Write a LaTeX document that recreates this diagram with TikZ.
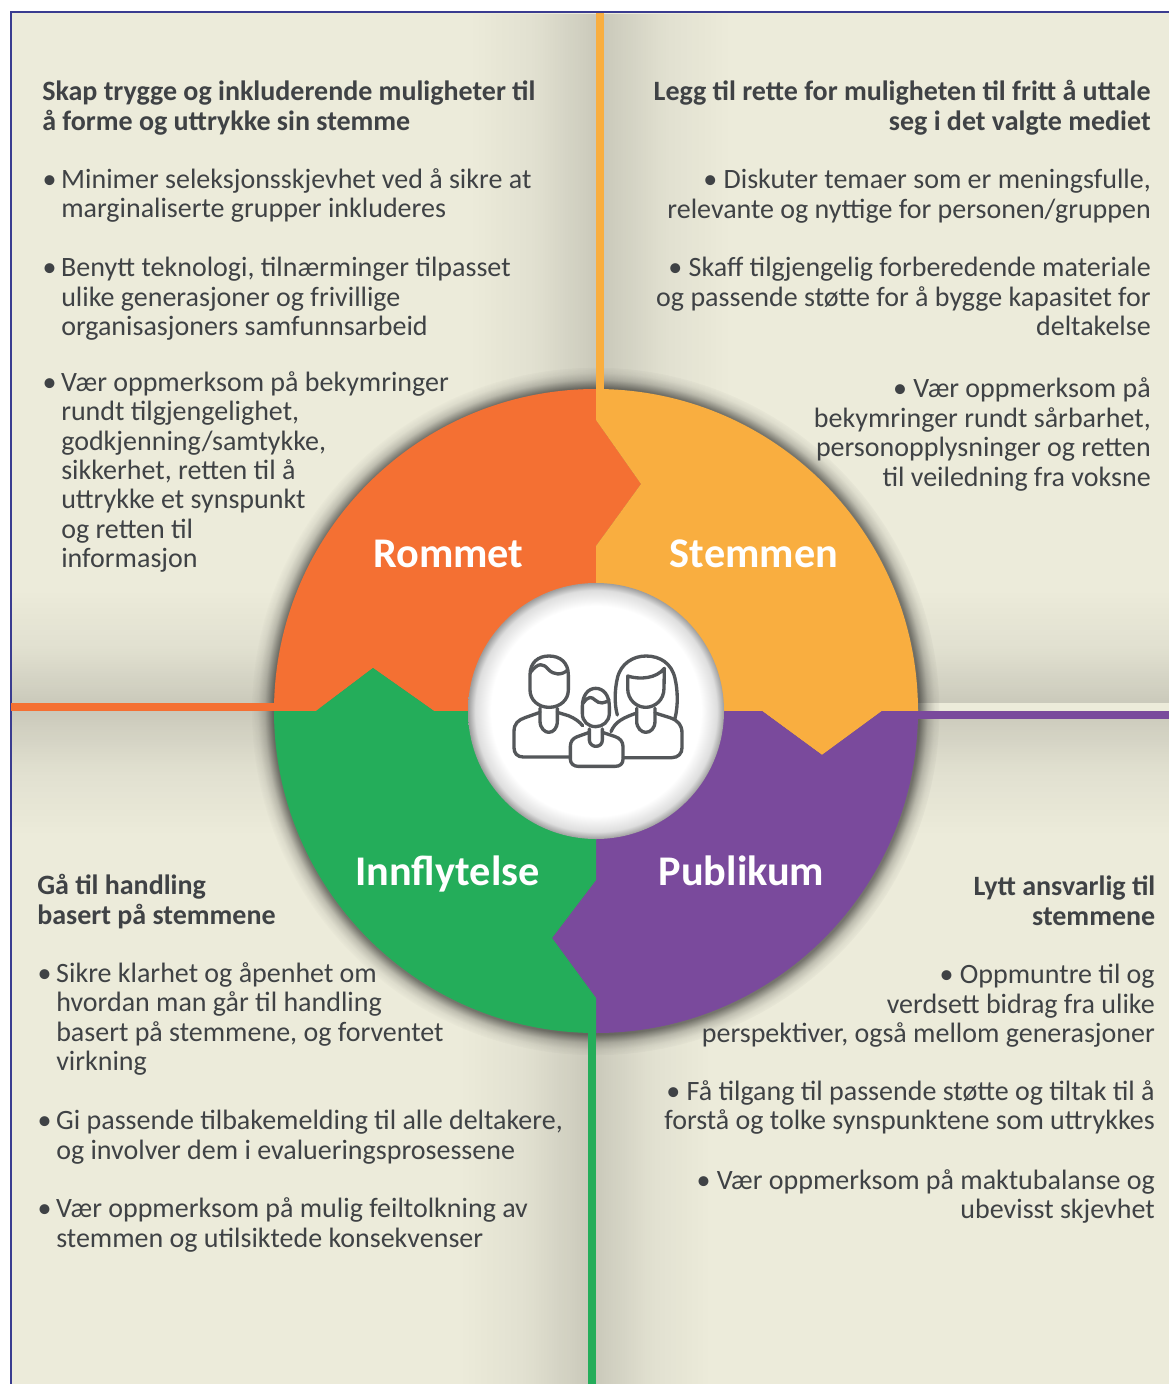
\documentclass[tikz,border=0pt]{standalone}
\usepackage{fontspec}
\setmainfont{Carlito}
\usetikzlibrary{fadings}
\definecolor{paper}{HTML}{ECEBDA}
\definecolor{frameblue}{HTML}{3A3C90}
\definecolor{wheelorange}{HTML}{F47033}
\definecolor{wheelyellow}{HTML}{F9AE40}
\definecolor{wheelgreen}{HTML}{24AD5A}
\definecolor{wheelpurple}{HTML}{7A4A9C}
\definecolor{bodytext}{HTML}{3F4245}
\definecolor{icongray}{HTML}{54575A}
\pgfdeclareradialshading{hubshade}{\pgfpoint{0bp}{0bp}}{color(0bp)=(white); color(20.5bp)=(white); color(23.6bp)=(black!13); color(25bp)=(black!38); color(50bp)=(black!38)}
\pgfdeclareradialshading{halofade}{\pgfpoint{0bp}{0bp}}{color(0bp)=(white); color(23.4bp)=(white); color(24bp)=(black!62); color(24.5bp)=(black!88); color(25bp)=(black); color(50bp)=(black)}
\pgfdeclarefading{halofading}{\pgfuseshading{halofade}}
\pgfdeclarehorizontalshading{rampoutright}{100bp}{color(0bp)=(white); color(25bp)=(white); color(50bp)=(black!70); color(75bp)=(black); color(100bp)=(black)}
\pgfdeclarehorizontalshading{rampoutleft}{100bp}{color(0bp)=(black); color(25bp)=(black); color(50bp)=(black!70); color(75bp)=(white); color(100bp)=(white)}
\pgfdeclareverticalshading{rampoutup}{100bp}{color(0bp)=(white); color(25bp)=(white); color(50bp)=(black!70); color(75bp)=(black); color(100bp)=(black)}
\pgfdeclareverticalshading{rampoutdown}{100bp}{color(0bp)=(black); color(25bp)=(black); color(50bp)=(black!70); color(75bp)=(white); color(100bp)=(white)}
\pgfdeclarefading{fadeoutright}{\pgfuseshading{rampoutright}}
\pgfdeclarefading{fadeoutleft}{\pgfuseshading{rampoutleft}}
\pgfdeclarefading{fadeoutup}{\pgfuseshading{rampoutup}}
\pgfdeclarefading{fadeoutdown}{\pgfuseshading{rampoutdown}}
\tikzset{
  lefttext/.style={anchor=north west,align=left,inner sep=0pt,text=bodytext,font=\fontsize{21}{22.1}\selectfont},
  righttext/.style={anchor=north east,align=right,inner sep=0pt,text=bodytext,font=\fontsize{21}{22.1}\selectfont},
  leftheadtext/.style={lefttext,font=\fontsize{21}{22.1}\selectfont\bfseries},
  rightheadtext/.style={righttext,font=\fontsize{21}{22.1}\selectfont\bfseries},
  wheellabel/.style={text=white,inner sep=0pt,font=\fontsize{31.7}{33}\selectfont\bfseries},
  bandshadow/.style={fill=black,fill opacity=0.14},
  iconline/.style={draw=icongray,line width=2.5pt,line join=round,line cap=round}
}
\newcommand{\hb}{\llap{•\hspace{3.5pt}}}
\begin{document}
\begin{tikzpicture}[x=0.75pt,y=-0.75pt]
\useasboundingbox (0,0) rectangle (1169,1384);
\fill[white] (0,0) rectangle (1169,1384);
\fill[paper] (10,12) rectangle (1169,1384);
% soft bands
\fill[bandshadow,path fading=fadeoutleft] (470,13) rectangle (596,711);
\fill[bandshadow,path fading=fadeoutright] (604,13) rectangle (730,711);
\fill[bandshadow,path fading=fadeoutleft] (460,711) rectangle (588,1384);
\fill[bandshadow,path fading=fadeoutright] (596,711) rectangle (710,1384);
\fill[bandshadow,path fading=fadeoutup] (12,590) rectangle (1169,703);
\fill[bandshadow,path fading=fadeoutdown] (12,711) rectangle (1169,835);
% halo
\fill[black,fill opacity=0.5,path fading=halofading] (596,711) circle [radius=344];
% frame
\draw[frameblue,line width=1.5pt] (10.5,1384) -- (10.5,12.5) -- (1169,12.5);
% arms
\fill[wheelyellow] (596,13) rectangle (604,420);
\fill[wheelorange] (11,703) rectangle (320,711);
\fill[wheelpurple] (880,711) rectangle (1169,719);
\fill[wheelgreen] (588,1000) rectangle (596,1384);
% wheel
\begin{scope}
\clip (596,711) circle [radius=322];
\fill[wheelorange] (596,300) -- (596,420) -- (641,484) -- (596,546) -- (596,711) -- (434,711) -- (373,668) -- (316,711) -- (200,711) -- (200,300) -- cycle;
\fill[wheelyellow] (596,300) -- (1000,300) -- (1000,711) -- (882,711) -- (822,755) -- (762,711) -- (596,711) -- (596,546) -- (641,484) -- (596,420) -- cycle;
\fill[wheelpurple] (1000,711) -- (1000,1100) -- (596,1100) -- (596,998) -- (552,938) -- (596,880) -- (596,711) -- (762,711) -- (822,755) -- (882,711) -- cycle;
\fill[wheelgreen] (596,1100) -- (200,1100) -- (200,711) -- (316,711) -- (373,668) -- (434,711) -- (596,711) -- (596,880) -- (552,938) -- (596,998) -- cycle;
\end{scope}
% hub
\shade[shading=hubshade] (596,711) circle [radius=128];
% icon
\begin{scope}[shift={(460,575)},x=0.25pt,y=-0.25pt]
% man
\draw[iconline] (210,345) -- (210,300) .. controls (210,262) and (235,243) .. (267,243) .. controls (300,243) and (325,262) .. (325,300) -- (325,345) .. controls (325,375) and (300,397) .. (267,397) .. controls (235,397) and (210,375) .. (210,345) -- cycle;
\draw[iconline] (213,290) .. controls (235,262) and (250,265) .. (265,283) .. controls (280,300) and (305,302) .. (323,285);
\draw[iconline] (328,546) -- (190,546) .. controls (172,546) and (162,535) .. (162,518) -- (162,470) .. controls (162,445) and (175,435) .. (195,428) -- (240,412);
\draw[iconline] (292,412) -- (325,422) .. controls (345,430) and (358,440) .. (368,452);
\draw[iconline] (240,400) -- (240,438) .. controls (240,460) and (255,472) .. (266,472) .. controls (280,472) and (292,460) .. (292,438) -- (292,400);
% woman
\draw[iconline] (472,420) .. controls (462,385) and (465,340) .. (472,310) .. controls (482,265) and (520,243) .. (558,243) .. controls (600,243) and (635,265) .. (645,310) .. controls (653,345) and (655,390) .. (645,430);
\draw[iconline] (503,303) .. controls (540,315) and (590,310) .. (613,280) -- (612,340) .. controls (612,375) and (585,397) .. (557,397) .. controls (530,397) and (503,375) .. (503,340) -- cycle;
\draw[iconline] (453,470) .. controls (465,440) and (490,428) .. (530,414);
\draw[iconline] (585,414) -- (630,428) .. controls (655,437) and (666,450) .. (666,475) -- (666,518) .. controls (666,535) and (655,548) .. (635,548) -- (490,548);
\draw[iconline] (530,400) -- (530,438) .. controls (530,460) and (545,472) .. (557,472) .. controls (572,472) and (585,460) .. (585,438) -- (585,400);
% child
\draw[iconline] (367,395) .. controls (367,360) and (385,340) .. (407,340) .. controls (430,340) and (448,360) .. (448,395) -- (448,415) .. controls (448,440) and (428,455) .. (407,455) .. controls (385,455) and (367,440) .. (367,415) -- cycle;
\draw[iconline] (369,385) .. controls (385,362) and (395,365) .. (405,375) .. controls (418,388) and (435,385) .. (447,375);
\draw[iconline] (388,462) -- (388,495) .. controls (388,508) and (400,514) .. (407,514) .. controls (418,514) and (427,508) .. (427,495) -- (427,462);
\draw[iconline] (388,472) -- (352,485) .. controls (338,490) and (331,500) .. (331,515) -- (331,553) .. controls (331,566) and (342,574) .. (354,574) -- (466,574) .. controls (480,574) and (489,566) .. (489,553) -- (489,515) .. controls (489,500) and (480,490) .. (466,485) -- (427,472);
\end{scope}
% wheel labels
\node[wheellabel] (rommet) at (448.5,554) {Rommet};
\node[wheellabel] (stemmen) at (754,554) {Stemmen};
\node[wheellabel] (innflytelse) at (447.5,874) {Innflytelse};
\node[wheellabel] (publikum) at (741.5,871) {Publikum};
% top left
\node[leftheadtext] (tlh) at (42,81) {Skap trygge og inkluderende muligheter til\\å forme og uttrykke sin stemme};
\node[lefttext] (tla) at (61,168) {\hb Minimer seleksjonsskjevhet ved å sikre at\\marginaliserte grupper inkluderes};
\node[lefttext] (tlb) at (61,257) {\hb Benytt teknologi, tilnærminger tilpasset\\ulike generasjoner og frivillige\\organisasjoners samfunnsarbeid};
\node[lefttext] (tlc) at (61,371) {\hb Vær oppmerksom på bekymringer\\rundt tilgjengelighet,\\godkjenning/samtykke,\\sikkerhet, retten til å\\uttrykke et synspunkt\\og retten til\\informasjon};
% top right
\node[rightheadtext] (trh) at (1151,80) {Legg til rette for muligheten til fritt å uttale\\seg i det valgte mediet};
\node[righttext] (tra) at (1151,169) {• Diskuter temaer som er meningsfulle,\\relevante og nyttige for personen/gruppen};
\node[righttext] (trb) at (1151,257) {• Skaff tilgjengelig forberedende materiale\\og passende støtte for å bygge kapasitet for\\deltakelse};
\node[righttext] (trc) at (1151,377.5) {• Vær oppmerksom på\\bekymringer rundt sårbarhet,\\personopplysninger og retten\\til veiledning fra voksne};
% bottom left
\node[leftheadtext] (blh) at (37,874) {Gå til handling\\basert på stemmene};
\node[lefttext] (bla) at (56,962) {\hb Sikre klarhet og åpenhet om\\hvordan man går til handling\\basert på stemmene, og forventet\\virkning};
\node[lefttext] (blb) at (56,1110) {\hb Gi passende tilbakemelding til alle deltakere,\\og involver dem i evalueringsprosessene};
\node[lefttext] (blc) at (56,1197.5) {\hb Vær oppmerksom på mulig feiltolkning av\\stemmen og utilsiktede konsekvenser};
% bottom right
\node[rightheadtext] (brh) at (1155.5,876) {Lytt ansvarlig til\\stemmene};
\node[righttext] (bra) at (1155,964) {• Oppmuntre til og\\verdsett bidrag fra ulike\\perspektiver, også mellom generasjoner};
\node[righttext] (brb) at (1155,1080) {• Få tilgang til passende støtte og tiltak til å\\forstå og tolke synspunktene som uttrykkes};
\node[righttext] (brc) at (1155,1169) {• Vær oppmerksom på maktubalanse og\\ubevisst skjevhet};
\end{tikzpicture}
\end{document}
